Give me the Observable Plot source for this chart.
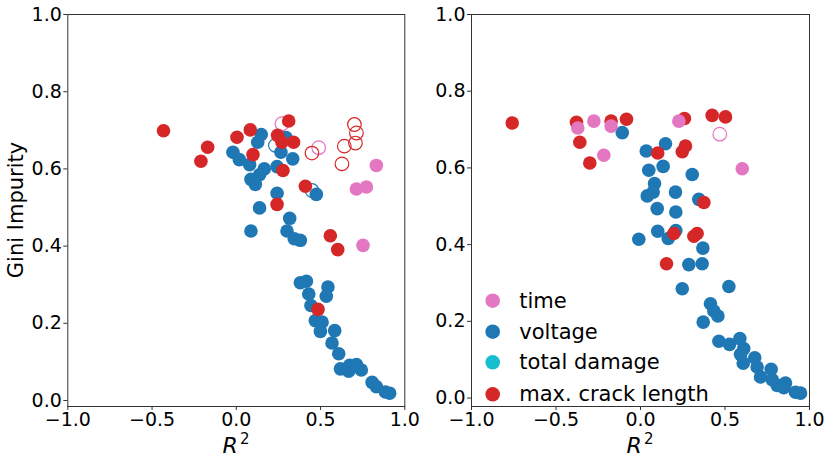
<!DOCTYPE html>
<html><head><meta charset="utf-8">
<script src="https://cdn.jsdelivr.net/npm/d3@7"></script>
<script src="https://cdn.jsdelivr.net/npm/@observablehq/plot@0.6"></script>
<style>
body{margin:0;background:#fff;}
#wrap{position:relative;width:831px;height:462px;font-family:"DejaVu Sans",sans-serif;background:#fff;}
.panel{position:absolute;top:0;}
#overlay{position:absolute;left:0;top:0;pointer-events:none;}
</style></head><body><div id="wrap"></div>
<script>
const categories = ["time", "voltage", "total damage", "max. crack length"];
const colors = ["#e377c2", "#1f77b4", "#17becf", "#d62728"];
const xTicks = [-1, -0.5, 0, 0.5, 1];
const yTicks = [0, 0.2, 0.4, 0.6, 0.8, 1.0];

// Left panel [R², Gini]
const leftVoltage = [[0.148,0.689],[0.127,0.669],[0.295,0.681],[0.265,0.643],[0.335,0.626],[-0.020,0.643],[0.018,0.624],[0.079,0.611],[0.166,0.600],[0.138,0.585],[0.242,0.606],[0.087,0.573],[0.113,0.560],[0.242,0.537],[0.475,0.534],[0.138,0.499],[0.317,0.472],[0.087,0.439],[0.301,0.439],[0.344,0.419],[0.380,0.415],[0.380,0.305],[0.416,0.309],[0.430,0.276],[0.544,0.294],[0.534,0.270],[0.443,0.246],[0.469,0.207],[0.509,0.203],[0.499,0.179],[0.584,0.181],[0.568,0.149],[0.608,0.121],[0.618,0.082],[0.667,0.076],[0.673,0.091],[0.713,0.093],[0.742,0.079],[0.806,0.047],[0.831,0.036],[0.885,0.022],[0.910,0.019]];
const leftVoltageHollow = [[0.232,0.661],[0.449,0.544]];
const leftCrack = [[-0.432,0.699],[-0.170,0.656],[-0.210,0.620],[0.004,0.682],[0.083,0.701],[0.099,0.637],[0.311,0.724],[0.245,0.687],[0.271,0.669],[0.340,0.669],[0.277,0.596],[0.410,0.555],[0.242,0.508],[0.558,0.427],[0.602,0.391],[0.485,0.236]];
const leftCrackHollow = [[0.449,0.641],[0.701,0.715],[0.713,0.693],[0.707,0.667],[0.641,0.659],[0.627,0.613]];
const leftTime = [[0.831,0.609],[0.713,0.548],[0.772,0.553],[0.752,0.402]];
const leftTimeHollow = [[0.271,0.717],[0.489,0.655]];

// Right panel [R², Gini]
const rightVoltage = [[-0.108,0.692],[0.034,0.644],[0.148,0.663],[0.049,0.594],[0.134,0.604],[0.306,0.583],[0.083,0.559],[0.075,0.537],[0.040,0.527],[0.207,0.537],[0.345,0.518],[0.099,0.494],[0.209,0.485],[0.102,0.435],[0.209,0.437],[0.164,0.416],[-0.010,0.414],[0.369,0.391],[0.286,0.348],[0.365,0.350],[0.247,0.285],[0.523,0.291],[0.414,0.246],[0.434,0.227],[0.458,0.214],[0.371,0.198],[0.464,0.148],[0.527,0.140],[0.588,0.155],[0.611,0.129],[0.592,0.114],[0.608,0.091],[0.676,0.105],[0.690,0.081],[0.710,0.055],[0.773,0.075],[0.779,0.048],[0.809,0.033],[0.858,0.039],[0.848,0.027],[0.917,0.015],[0.947,0.013]];
const rightCrack = [[-0.759,0.717],[-0.379,0.719],[-0.359,0.667],[-0.300,0.613],[-0.174,0.722],[-0.083,0.727],[0.260,0.729],[0.424,0.737],[0.503,0.733],[0.102,0.639],[0.266,0.657],[0.247,0.642],[0.375,0.510],[0.197,0.429],[0.335,0.429],[0.316,0.422],[0.154,0.350]];
const rightTime = [[-0.371,0.704],[-0.276,0.722],[-0.174,0.709],[-0.217,0.633],[0.227,0.722],[0.602,0.598]];
const rightTimeHollow = [[0.469,0.688]];

function rows(arr, series, filled) { return arr.map(([x, y]) => ({x, y, series, filled})); }

const leftData = [
  ...rows(leftTimeHollow, "time", false), ...rows(leftVoltageHollow, "voltage", false), ...rows(leftCrackHollow, "max. crack length", false),
  ...rows(leftVoltage, "voltage", true), ...rows(leftCrack, "max. crack length", true), ...rows(leftTime, "time", true)
];
const rightData = [
  ...rows(rightTimeHollow, "time", false),
  ...rows(rightVoltage, "voltage", true), ...rows(rightCrack, "max. crack length", true), ...rows(rightTime, "time", true)
];

const fmt = d3.format(".1f");
function panel(data, yDomain, width, ml, mr) {
  return Plot.plot({
    width, height: 462, marginLeft: ml, marginRight: mr, marginTop: 14, marginBottom: 56,
    x: {domain: [-1, 1]}, y: {domain: yDomain},
    color: {domain: categories, range: colors},
    style: {fontFamily: "DejaVu Sans", fontSize: "19px", color: "#000", background: "transparent", overflow: "visible"},
    marks: [
      Plot.dot(data.filter(d => !d.filled), {x: "x", y: "y", r: 6.8, stroke: "series", strokeWidth: 1.2, fill: "none"}),
      Plot.dot(data.filter(d => d.filled), {x: "x", y: "y", r: 6.8, fill: "series", stroke: "none"}),
      Plot.frame({stroke: "#333", strokeWidth: 1}),
      Plot.axisX({ticks: xTicks, tickFormat: fmt, tickSize: 4, tickPadding: 2, label: null, stroke: "#333", fontSize: 19}),
      Plot.axisY({ticks: yTicks, tickFormat: fmt, tickSize: 4, tickPadding: 2, label: null, stroke: "#333", fontSize: 19})
    ]
  });
}

const wrap = document.getElementById("wrap");
const p1 = panel(leftData, [-0.0155, 1.0], 415, 67.3, 10.7);
p1.classList.add("panel"); p1.style.left = "0px";
const p2 = panel(rightData, [-0.022, 1.0], 416, 56, 22);
p2.classList.add("panel"); p2.style.left = "415px";
wrap.appendChild(p1); wrap.appendChild(p2);

// overlay: axis titles and legend
const svg = d3.select(wrap).append("svg").attr("id", "overlay").attr("width", 831).attr("height", 462)
  .style("font-family", "DejaVu Sans");
for (const cx of [236, 640]) {
  const t = svg.append("text").attr("x", cx).attr("y", 453).attr("text-anchor", "middle").attr("font-size", 22);
  t.append("tspan").attr("font-style", "italic").text("R");
  t.append("tspan").attr("font-size", 15).attr("dy", -9).attr("dx", 2).text("2");
}
svg.append("text").attr("transform", "translate(23,210) rotate(-90)").attr("text-anchor", "middle")
  .attr("font-size", 21).text("Gini Impurity");
const legY = [300.7, 331.7, 362.3, 394.3];
categories.forEach((c, i) => {
  svg.append("circle").attr("cx", 492.7).attr("cy", legY[i]).attr("r", 7.3).attr("fill", colors[i]);
  svg.append("text").attr("x", 519.3).attr("y", legY[i] + 7).attr("font-size", 21).text(c);
});
</script></body></html>
